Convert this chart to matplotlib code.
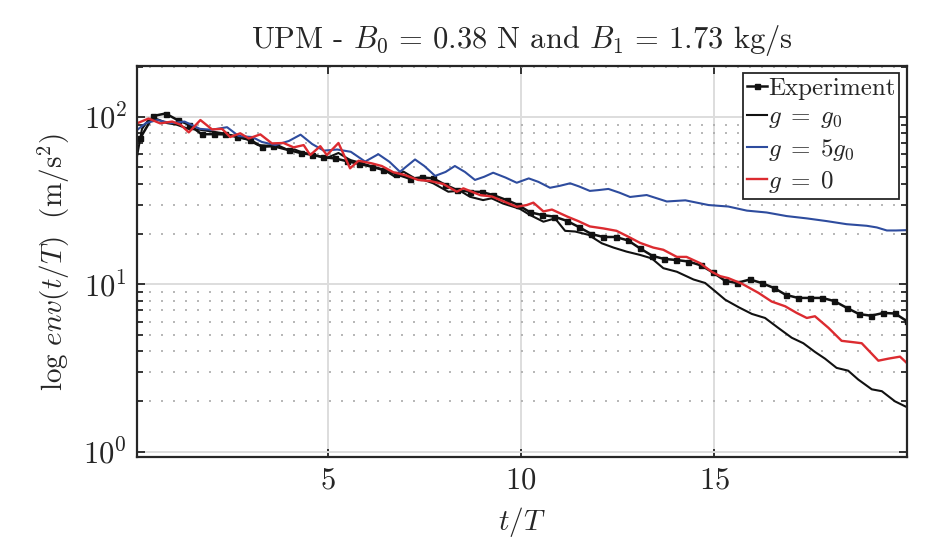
import numpy as np
import matplotlib
matplotlib.use("Agg")
import matplotlib.pyplot as plt

plt.rcParams['font.family'] = 'serif'
plt.rcParams['font.serif'] = ['cmr10']
plt.rcParams['mathtext.fontset'] = 'cm'
plt.rcParams['axes.formatter.use_mathtext'] = True
plt.rcParams['text.color'] = '#262626'
plt.rcParams['axes.labelcolor'] = '#262626'
plt.rcParams['xtick.labelcolor'] = '#262626'
plt.rcParams['ytick.labelcolor'] = '#262626'

# experiment envelope (markers)
t_exp = [0.15, 0.49, 0.81, 1.12, 1.42, 1.74, 2.05, 2.35, 2.66, 3.0, 3.3, 3.6, 3.99, 4.3, 4.6,
         4.89, 5.19, 5.5, 5.82, 6.14, 6.44, 6.78, 7.13, 7.43, 7.73, 8.03, 8.34, 8.68, 8.98,
         9.28, 9.63, 9.93, 10.23, 10.54, 10.86, 11.18, 11.5, 11.82, 12.13, 12.45, 12.77,
         13.08, 13.4, 13.7, 14.0, 14.33, 14.65, 14.96, 15.28, 15.58, 15.92, 16.22, 16.55,
         16.85, 17.17, 17.47, 17.79, 18.1, 18.42, 18.74, 19.05, 19.37, 19.67, 19.97]
v_exp = [74.5, 101.5, 105, 96, 90, 79, 79, 78.8, 76, 73, 66.5, 67, 63.5, 61, 59.5,
         57.5, 56.6, 54.5, 52.5, 50.5, 48.3, 45.5, 42.8, 43.6, 43, 39.5, 36.7, 35.8, 35.7,
         34.2, 31.9, 29.8, 27, 26, 25.4, 24, 22, 20, 19.2, 19.2, 18.3,
         16.4, 14.8, 14.2, 14.0, 13.7, 13.0, 11.8, 10.5, 10.2, 10.7, 10.2, 9.5,
         8.65, 8.3, 8.3, 8.3, 7.95, 7.25, 6.65, 6.5, 6.75, 6.7, 6.05]

# model g = g0
t_g0 = [0.07, 0.2, 0.35, 0.6, 0.85, 1.1, 1.4, 1.7, 2.0, 2.3, 2.6, 2.9, 3.2, 3.4, 3.7, 3.95,
        4.15, 4.3, 4.63, 4.98, 5.28, 5.58, 5.84, 6.18, 6.45, 6.74, 6.96, 7.26, 7.5, 7.73,
        8.12, 8.42, 8.68, 9.02, 9.24, 9.54, 9.97, 10.23, 10.58, 10.88, 11.14, 11.4, 11.74,
        12.09, 12.39, 12.73, 13.08, 13.38, 13.68, 14.03, 14.46, 14.76, 15.02, 15.28, 15.63,
        15.97, 16.31, 16.65, 17.0, 17.3, 17.6, 17.86, 18.16, 18.46, 18.72, 19.07, 19.33,
        19.67, 19.97]
v_g0 = [58, 85, 95, 97, 92, 90, 85, 84, 82, 80, 77, 74, 68, 67.5, 68, 64,
        64, 62, 59.3, 57, 61, 55.4, 53.4, 50.4, 48.5, 44, 47.2, 43, 42, 40.2,
        35.8, 36.3, 33.4, 31.9, 32.7, 30.4, 28.3, 26, 23.7, 24.8, 20.9, 20.7, 19.8,
        17.6, 16.6, 15.7, 15.0, 14.3, 12.5, 11.9, 10.7, 10.2, 9.1, 8.1, 7.3,
        6.66, 6.3, 5.5, 4.8, 4.45, 3.95, 3.6, 3.17, 3.05, 2.7, 2.36, 2.3,
        2.0, 1.85]

# model g = 5 g0
t_5g0 = [0.07, 0.3, 0.6, 0.95, 1.3, 1.7, 2.0, 2.4, 2.7, 3.05, 3.3, 3.65, 4.0, 4.3, 4.6,
         4.9, 5.25, 5.6, 5.97, 6.31, 6.6, 6.87, 7.26, 7.5, 7.78, 8.05, 8.29, 8.55, 8.81,
         9.05, 9.28, 9.6, 9.89, 10.2, 10.45, 10.75, 11.0, 11.27, 11.5, 11.78, 12.0, 12.26,
         12.55, 12.82, 13.25, 13.77, 14.25, 14.85, 15.36, 15.84, 16.35, 16.87, 17.39, 17.9,
         18.42, 18.94, 19.2, 19.46, 19.7, 19.97]
v_5g0 = [83.6, 92, 96, 92, 94, 85, 84, 87, 77, 76, 71, 68, 72, 78.5, 69,
         63, 64, 62, 54.2, 60, 54, 47.1, 55.8, 51, 44.5, 47, 51, 47, 42.1,
         44, 46.5, 43.5, 40.5, 43, 41, 37.8, 38.8, 40.2, 38.5, 36.2, 36.6, 37.2,
         35.3, 33.3, 34.2, 31.3, 31.8, 29.8, 29.2, 27.6, 26.9, 25.6, 24.8, 23.9,
         22.9, 22.4, 21.9, 21, 21, 21.1]

# model g = 0
t_0 = [0.07, 0.37, 0.67, 0.98, 1.2, 1.41, 1.71, 2.01, 2.27, 2.48, 2.74, 2.96, 3.26, 3.56,
       3.86, 4.12, 4.38, 4.55, 4.81, 4.98, 5.28, 5.58, 5.8, 6.14, 6.4, 6.7, 7.0, 7.34, 7.65,
       7.99, 8.34, 8.51, 8.94, 9.25, 9.63, 9.89, 10.15, 10.32, 10.58, 10.8, 11.2, 11.48,
       11.78, 12.13, 12.47, 12.77, 13.08, 13.42, 13.68, 14.03, 14.28, 14.63, 14.93, 15.15,
       15.36, 15.71, 16.14, 16.48, 16.83, 17.13, 17.39, 17.6, 17.95, 18.29, 18.64, 18.81,
       19.24, 19.5, 19.8, 19.97]
v_0 = [91.7, 98, 91.7, 94, 90, 81, 96, 84.4, 85, 76, 80, 74.5, 78.8, 69.6,
       70, 65.9, 68, 59.3, 67, 59.3, 70, 49.4, 54.8, 52.9, 51, 46.8, 45, 42.1, 41.5,
       39.8, 35.8, 37.5, 34.2, 33.5, 30.8, 29.1, 29.8, 30.8, 27.3, 28, 25.4, 23.9,
       22.2, 21.6, 20.9, 19.3, 17.7, 16.6, 16.1, 14.6, 14.6, 13.4, 11.9, 11.2,
       10.9, 10.1, 8.9, 7.9, 7.4, 6.75, 6.3, 6.45, 5.5, 4.6, 4.5, 4.45,
       3.5, 3.6, 3.7, 3.4]

fig = plt.figure(figsize=(9.33, 5.53), dpi=100)
ax = fig.add_axes([0.1468, 0.1736, 0.8253, 0.7071])

ax.plot(t_exp, v_exp, '-s', color='#111111', lw=1.8, ms=3.6, label='Experiment')
ax.plot(t_g0, v_g0, color='#111111', lw=1.5, label=r'$g\;=\;g_0$')
ax.plot(t_5g0, v_5g0, color='#2E4C9E', lw=1.5, label=r'$g\;=\;5g_0$')
ax.plot(t_0, v_0, color='#DC2B30', lw=1.7, label=r'$g\;=\;0$')

ax.set_yscale('log')
ax.set_xlim(0.07, 19.98)
ax.set_ylim(0.93, 202)
ax.set_xticks([5, 10, 15])
ax.set_xticklabels(['$5$', '$10$', '$15$'])

ax.grid(True, which='major', color='#DDDDDD', lw=1.4, ls='-')
ax.grid(True, which='minor', axis='y', color='#AAAAAA', lw=1.2, ls=(0, (1.2, 6)))
ax.set_axisbelow(True)

ax.tick_params(which='both', direction='in', top=True, right=True, labelsize=22,
               color='#262626', width=1.3, pad=7)
ax.tick_params(which='major', length=6)
ax.tick_params(which='minor', length=4)
for s in ax.spines.values():
    s.set_color('#262626')
    s.set_linewidth(1.6)

ax.set_xlabel('$t/T$', fontsize=21, labelpad=8)
ax.set_ylabel(r'$\log\, env(t/T)\ \ (\mathrm{m/s^2})$', fontsize=21, labelpad=8)
ax.set_title(r'UPM - $B_0\,=\,0.38$ N and $B_1\,=\,1.73$ kg/s', fontsize=22, pad=13)

leg = ax.legend(loc='upper right', fontsize=18, fancybox=False, framealpha=1,
                edgecolor='#262626', handlelength=0.8, handletextpad=0.05,
                borderpad=0.15, labelspacing=0.25, borderaxespad=0.3)
leg.get_frame().set_linewidth(1.3)

fig.savefig('out.png', dpi=100)
